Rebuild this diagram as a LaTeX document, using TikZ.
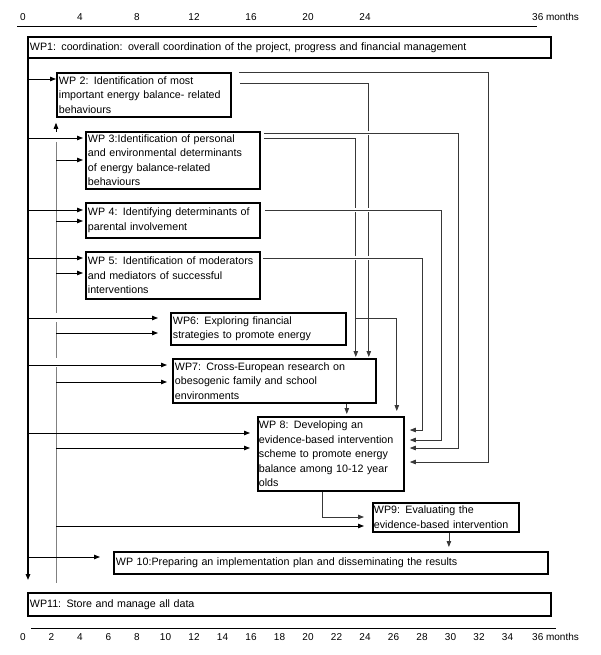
\documentclass[tikz,border=0pt]{standalone}
\usepackage{fontspec}
\setmainfont{Liberation Sans}
\usetikzlibrary{arrows.meta}
\definecolor{link grey}{rgb}{0.22,0.22,0.22}
\definecolor{bus grey}{rgb}{0.5,0.5,0.5}

\begin{document}
\begin{tikzpicture}[x=1pt, y=-1pt,
		wp/.style={draw, line width=1.8pt, anchor=north west, align=left,
			inner xsep=2pt, inner ysep=0pt, font=\fontsize{10.7}{14.5}\selectfont},
		tick/.style={font=\fontsize{10}{12}\selectfont, inner sep=0pt},
		arrow/.style={-{Triangle[length=6pt,width=4.5pt]}},
		feed/.style={line width=0.9pt},
		link/.style={draw=link grey, line width=0.8pt},
		hop/.style={preaction={draw=white, line width=4pt, -}}]
			\useasboundingbox (0,0) rectangle (600,655);
			% time axis, top
			\draw[line width=0.8pt] (17,26) -- (537,26);
			\foreach \m in {0,4,...,24}
				\node[tick] (t\m) at (23+14.25*\m,17) {\m};
			\node[tick, anchor=west] (t36) at (532,17) {36 months};
			% work packages
			\node[wp, text width=519, minimum height=21] (wp1) at (27,36)
				{WP1: coordination: overall coordination of the project, progress and financial management};
			\node[wp, text width=170, minimum height=44] (wp2) at (56,72)
				{WP 2: Identification of most\\important energy balance- related\\behaviours};
			\node[wp, text width=170, minimum height=57] (wp3) at (85,131)
				{WP 3:Identification of personal\\and environmental determinants\\of energy balance-related\\behaviours};
			\node[wp, text width=170, minimum height=35] (wp4) at (85,202)
				{WP 4: Identifying determinants of\\parental involvement};
			\node[wp, text width=170, minimum height=47] (wp5) at (85,251)
				{WP 5: Identification of \mbox{moderators}\\and mediators of successful\\interventions};
			\node[wp, text width=171, minimum height=32] (wp6) at (170,312)
				{WP6: Exploring financial\\strategies to promote energy};
			\node[wp, text width=199, minimum height=44] (wp7) at (172,358)
				{WP7: Cross-European research on\\obesogenic family and school\\environments};
			\node[wp, inner xsep=1pt, text width=144, minimum height=74] (wp8) at (257,416)
				{WP 8: Developing an\\\mbox{evidence-based intervention}\\scheme to promote energy\\balance among 10-12 year\\olds};
			\node[wp, inner xsep=1pt, text width=144, minimum height=29] (wp9) at (372,502)
				{WP9: Evaluating the\\\mbox{evidence-based intervention}};
			\node[wp, text width=430, minimum height=22] (wp10) at (113,551)
				{WP 10:Preparing an implementation plan and disseminating the results};
			\node[wp, text width=519, minimum height=23] (wp11) at (27,592)
				{WP11: Store and manage all data};
			% coordination line and data line on the left
			\draw[line width=1.3pt, arrow, shorten >=12pt] ([xshift=1pt]wp1.south west)
				-- ([xshift=1pt]wp1.south west |- wp11.north);
			\draw[draw=bus grey, line width=0.8pt]
				(56,142) -- (56,313) (56,322) -- (56,358) (56,367) -- (56,583);
			\draw[feed, arrow, shorten >=5pt] (56,132) -- (wp2.south west);
			\foreach \y/\n/\g in {79/wp2/0, 138/wp3/2, 210/wp4/2, 258/wp5/2,
					318/wp6/12, 365/wp7/5, 433/wp8/7, 557/wp10/13}
				\draw[feed, arrow, shorten >=\g pt] (28,\y) -- (\n.west |- 0,\y);
			\foreach \y/\n/\g in {160/wp3/2, 221/wp4/2, 273/wp5/2, 333/wp6/12,
					382/wp7/5, 448/wp8/7, 526/wp9/8}
				\draw[feed, arrow, shorten >=\g pt] (56,\y) -- (\n.west |- 0,\y);
			% results passed on to later work packages
			\draw[link, arrow, shorten >=1pt] ([xshift=8pt]wp2.east |- 0,83)
				-| ([xshift=-8pt]wp7.north east);
			\draw[link, arrow, shorten >=1pt] ([xshift=3pt]wp3.east |- 0,138)
				-| ([xshift=-21pt]wp7.north east);
			\draw[link, arrow] ([xshift=7pt]wp2.north east) -| (488,462)
				-- ([xshift=5pt]wp8.east |- 0,462);
			\draw[link, arrow, hop] ([xshift=3pt]wp3.east |- 0,133) -| (458,448)
				-- ([xshift=5pt]wp8.east |- 0,448);
			\draw[link, arrow, hop] ([xshift=4pt]wp4.east |- 0,210) -| (441,440)
				-- ([xshift=5pt]wp8.east |- 0,440);
			\draw[link, arrow, hop] ([xshift=2pt]wp5.east |- 0,258) -| (422,430)
				-- ([xshift=5pt]wp8.east |- 0,430);
			\draw[link, arrow, shorten >=5pt] ([xshift=8pt]wp6.east |- 0,318)
				-| ([xshift=-8pt]wp8.north east);
			\draw[link, arrow, shorten >=2pt] ([xshift=-30pt]wp7.south east)
				-- ([xshift=-30pt]wp7.south east |- wp8.north);
			\draw[link, arrow, shorten >=8pt] ([xshift=-9pt]wp8.south) |- (wp9.west |- 0,517);
			\draw[link, arrow, shorten >=4pt] ([xshift=3pt]wp9.south)
				-- ([xshift=3pt]wp9.south |- wp10.north);
			% time axis, bottom
			\draw[line width=0.8pt] (31,628) -- (556,628);
			\foreach \m in {0,2,...,34}
				\node[tick] (b\m) at (23+14.25*\m,637) {\m};
			\node[tick, anchor=west] (b36) at (532,637) {36 months};
		\end{tikzpicture}
\end{document}
